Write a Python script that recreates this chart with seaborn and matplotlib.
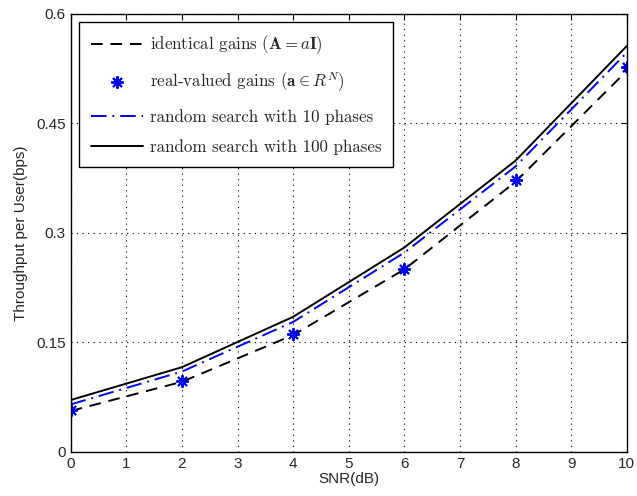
import pandas as pd
import matplotlib
matplotlib.use("Agg")
import matplotlib.pyplot as plt
import seaborn as sns

# --- Data ---
SNR_DB = [0, 2, 4, 6, 8, 10]
IDENTICAL = [0.056, 0.096, 0.160, 0.250, 0.370, 0.522]
REAL_VALUED = [0.057, 0.097, 0.162, 0.251, 0.372, 0.527]
RANDOM_10 = [0.065, 0.110, 0.178, 0.273, 0.391, 0.547]
RANDOM_100 = [0.071, 0.116, 0.185, 0.280, 0.399, 0.556]

LABELS = [
    r"identical gains ($\mathbf{A} = a\mathbf{I}$)",
    r"real-valued gains ($\mathbf{a} \in R^N$)",
    "random search with 10 phases",
    "random search with 100 phases",
]
X_TICKS = list(range(0, 11))
Y_TICKS = [0, 0.15, 0.3, 0.45, 0.6]
Y_TICK_LABELS = ["0", "0.15", "0.3", "0.45", "0.6"]


def main():
    sns.set_style("white")
    plt.rcParams["font.family"] = ["Liberation Sans", "DejaVu Sans"]
    plt.rcParams["mathtext.fontset"] = "cm"

    df = pd.DataFrame({
        "snr": SNR_DB,
        "identical": IDENTICAL,
        "real": REAL_VALUED,
        "rand10": RANDOM_10,
        "rand100": RANDOM_100,
    })

    fig = plt.figure(figsize=(6.37, 4.96), dpi=100)
    ax = fig.add_axes([0.111, 0.089, 0.873, 0.883])

    sns.lineplot(data=df, x="snr", y="identical", ax=ax, color="black",
                 linewidth=1.4, label=LABELS[0])
    ax.lines[-1].set_dashes([6, 4])
    sns.lineplot(data=df, x="snr", y="real", ax=ax, color="blue",
                 linestyle="none", marker=(8, 2, 0), markersize=9,
                 markeredgewidth=1.4, markeredgecolor="blue", label=LABELS[1])
    sns.lineplot(data=df, x="snr", y="rand10", ax=ax, color="blue",
                 linewidth=1.4, label=LABELS[2])
    ax.lines[-1].set_dashes([8, 3, 1, 3])
    sns.lineplot(data=df, x="snr", y="rand100", ax=ax, color="black",
                 linewidth=1.4, label=LABELS[3])

    ax.set_xlim(0, 10)
    ax.set_ylim(0, 0.6)
    ax.set_xticks(X_TICKS)
    ax.set_yticks(Y_TICKS)
    ax.set_yticklabels(Y_TICK_LABELS)
    ax.tick_params(direction="in", length=4, labelsize=11, top=True, right=True,
                   color="black", width=0.8)
    ax.grid(True, linestyle=(0, (1, 4)), color="black", linewidth=0.8)

    for spine in ax.spines.values():
        spine.set_color("black")
        spine.set_linewidth(1.0)

    ax.set_xlabel("SNR(dB)", fontsize=11, labelpad=1)
    ax.set_ylabel("Throughput per User(bps)", fontsize=11, labelpad=6)

    leg = ax.legend(loc="upper left", bbox_to_anchor=(0.0144, 0.982),
                    borderaxespad=0, fancybox=False, framealpha=1,
                    edgecolor="black", handlelength=3.1, handletextpad=0.4,
                    labelspacing=0.85, borderpad=0.7,
                    prop={"family": "cmr10", "size": 12.2})
    leg.get_frame().set_linewidth(1.0)

    fig.savefig("out.png", dpi=100)
    plt.close(fig)


if __name__ == "__main__":
    main()
